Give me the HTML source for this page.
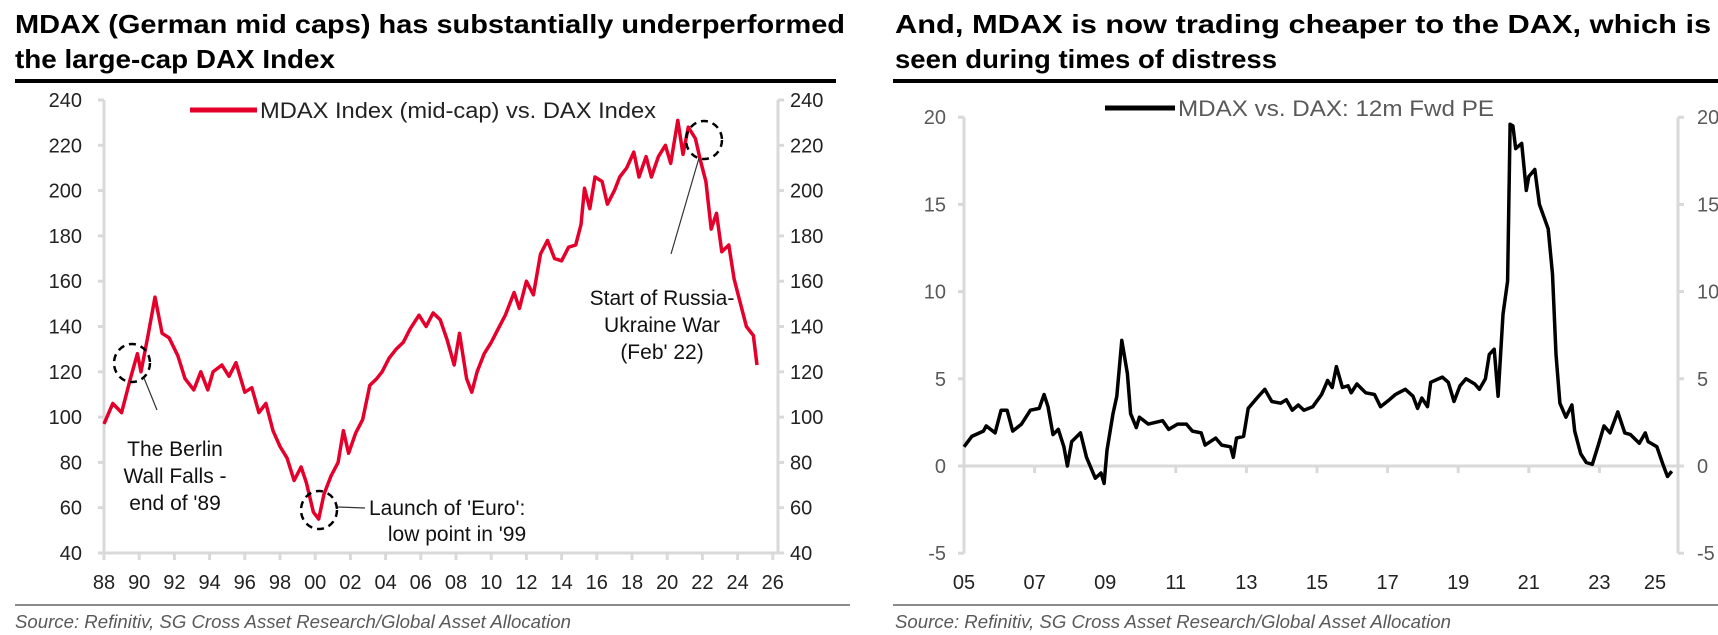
<!DOCTYPE html>
<html><head><meta charset="utf-8"><style>
html,body{margin:0;padding:0;background:#fff;}
svg{display:block;}
.t{font-family:"Liberation Sans Narrow","Liberation Sans",sans-serif;}
</style></head><body>
<svg id="s" width="1718" height="635" xmlns="http://www.w3.org/2000/svg">
<g font-family="Liberation Sans, sans-serif" font-weight="bold" font-size="26" fill="#000">
<text x="15" y="33" textLength="830" lengthAdjust="spacingAndGlyphs">MDAX (German mid caps) has substantially underperformed</text>
<text x="15" y="68" textLength="320" lengthAdjust="spacingAndGlyphs">the large-cap DAX Index</text>
</g>
<rect x="15" y="79" width="821" height="4" fill="#000"/>
<g font-family="Liberation Sans, sans-serif" font-weight="bold" font-size="26" fill="#000">
<text x="895" y="33" textLength="888" lengthAdjust="spacingAndGlyphs">And, MDAX is now trading cheaper to the DAX, which is only</text>
<text x="895" y="68" textLength="382" lengthAdjust="spacingAndGlyphs">seen during times of distress</text>
</g>
<rect x="893" y="79" width="825" height="4" fill="#000"/>
<rect x="15" y="604" width="835" height="2" fill="#8c8c8c"/>
<rect x="893" y="604" width="825" height="2" fill="#8c8c8c"/>
<text x="15" y="628" textLength="556" lengthAdjust="spacingAndGlyphs" font-family="Liberation Sans Narrow, Liberation Sans, sans-serif" font-style="italic" font-size="18" fill="#595959">Source: Refinitiv, SG Cross Asset Research/Global Asset Allocation</text>
<text x="895" y="628" textLength="556" lengthAdjust="spacingAndGlyphs" font-family="Liberation Sans Narrow, Liberation Sans, sans-serif" font-style="italic" font-size="18" fill="#595959">Source: Refinitiv, SG Cross Asset Research/Global Asset Allocation</text>
<g id="L"></g>
<g id="R"></g>
</svg>
<script>
// ---- Left chart data ----
const lYears=[88.0,88.5,89.0,89.5,89.9,90.1,90.5,90.9,91.3,91.7,92.2,92.6,93.1,93.5,93.9,94.2,94.7,95.1,95.5,96.0,96.4,96.8,97.2,97.6,98.0,98.4,98.8,99.2,99.5,99.9,100.2,100.5,100.9,101.3,101.6,101.9,102.3,102.7,103.1,103.5,103.8,104.2,104.6,105.0,105.4,105.9,106.3,106.7,107.1,107.5,107.9,108.2,108.6,108.9,109.2,109.6,110.0,110.4,110.8,111.3,111.6,112.0,112.4,112.8,113.2,113.6,114.0,114.4,114.8,115.1,115.3,115.6,115.9,116.3,116.6,117.0,117.3,117.7,118.1,118.4,118.8,119.1,119.5,119.9,120.2,120.6,120.9,121.2,121.6,121.9,122.2,122.5,122.8,123.1,123.5,123.8,124.2,124.5,124.9,125.1];
const lValues=[97,106,102,117,128,120,136,153,137,135,127,117,112,120,112,120,123,118,124,111,113,102,106,94,87,82,72,78,71,58,55,66,74,80,94,84,93,99,114,117,120,126,130,133,139,145,140,146,143,134,123,137,117,111,120,128,133,139,145,155,148,160,154,172,178,170,169,175,176,185,201,192,206,204,194,200,206,210,217,206,215,206,215,220,212,231,216,228,223,213,204,183,190,173,176,161,149,140,136,123];
const lYTicks=[40,60,80,100,120,140,160,180,200,220,240];
const lXTicks=["88","90","92","94","96","98","00","02","04","06","08","10","12","14","16","18","20","22","24","26"];
// ---- Right chart data ----
const rYears=[5.00,5.22,5.55,5.63,5.88,6.05,6.22,6.38,6.63,6.88,7.13,7.27,7.38,7.52,7.67,7.83,7.93,8.05,8.30,8.47,8.72,8.88,8.97,9.05,9.22,9.33,9.47,9.63,9.72,9.88,9.97,10.22,10.63,10.80,11.05,11.30,11.47,11.72,11.83,12.13,12.30,12.55,12.63,12.72,12.92,13.05,13.30,13.52,13.72,13.97,14.13,14.30,14.47,14.63,14.88,15.13,15.30,15.43,15.55,15.72,15.88,15.97,16.13,16.38,16.63,16.80,17.05,17.22,17.50,17.72,17.85,17.97,18.13,18.22,18.55,18.72,18.88,19.05,19.22,19.47,19.60,19.77,19.88,20.02,20.13,20.27,20.40,20.47,20.55,20.63,20.80,20.93,21.00,21.17,21.30,21.55,21.67,21.77,21.88,22.05,22.22,22.30,22.47,22.63,22.80,22.97,23.13,23.30,23.52,23.72,23.88,24.13,24.30,24.38,24.63,24.80,24.93,25.05];
const rValues=[1.1,1.7,2.0,2.3,1.9,3.2,3.2,2.0,2.4,3.2,3.3,4.1,3.4,1.8,2.1,1.1,0.0,1.4,1.9,0.5,-0.7,-0.4,-1.0,0.9,3.0,4.0,7.2,5.3,3.0,2.2,2.8,2.4,2.6,2.1,2.4,2.4,2.0,1.9,1.2,1.6,1.2,1.1,0.5,1.6,1.7,3.3,3.9,4.4,3.7,3.6,3.8,3.2,3.5,3.2,3.4,4.1,4.9,4.5,5.7,4.5,4.6,4.2,4.7,4.2,4.1,3.4,3.8,4.1,4.4,4.0,3.3,3.9,3.4,4.8,5.1,4.8,3.7,4.6,5.0,4.7,4.4,5.0,6.4,6.7,4.0,8.7,10.6,19.6,19.5,18.2,18.5,15.8,16.6,17.0,15.0,13.6,11.0,6.4,3.6,2.8,3.5,2.0,0.7,0.2,0.1,1.2,2.3,1.9,3.1,1.9,1.8,1.3,1.9,1.4,1.1,0.1,-0.6,-0.3];
const rYTicks=[-5,0,5,10,15,20];
const rXTicks=["05","07","09","11","13","15","17","19","21","23","25"];

const NS="http://www.w3.org/2000/svg";
function mk(parent,tag,attrs,text){const e=document.createElementNS(NS,tag);for(const k in attrs)e.setAttribute(k,attrs[k]);if(text!==undefined)e.textContent=text;parent.appendChild(e);return e;}

// Left axes
const lx=y=>104+(y-88)*17.6;
const ly=v=>100+(240-v)*45.3/20;
const L=document.getElementById('L');
let e;
e=mk(L,'line',{x1:104,y1:ly(240),x2:104,y2:ly(40),stroke:'#d9d9d9','stroke-width':3});

e=mk(L,'line',{x1:778,y1:ly(240),x2:778,y2:ly(40),stroke:'#d9d9d9','stroke-width':3});

e=mk(L,'line',{x1:104,y1:ly(40),x2:778,y2:ly(40),stroke:'#d9d9d9','stroke-width':3});

lYTicks.forEach(v=>{
  mk(L,'line',{x1:98,y1:ly(v),x2:104,y2:ly(v),stroke:'#d9d9d9','stroke-width':3});
  mk(L,'line',{x1:778,y1:ly(v),x2:784,y2:ly(v),stroke:'#d9d9d9','stroke-width':3});
  e=mk(L,'text',{x:82,y:ly(v)+7,'text-anchor':'end','font-size':20,fill:'#222',class:'t'},String(v));
  
  e=mk(L,'text',{x:790,y:ly(v)+7,'font-size':20,fill:'#222',class:'t'},String(v));
  
});
lXTicks.forEach((s,i)=>{
  const x=lx(88+i*2);
  mk(L,'line',{x1:x,y1:ly(40),x2:x,y2:ly(40)+7,stroke:'#d9d9d9','stroke-width':3});
  e=mk(L,'text',{x:x,y:589,'text-anchor':'middle','font-size':20,fill:'#222',class:'t'},s);
  
});
e=mk(L,'polyline',{points:lYears.map((y,i)=>lx(y).toFixed(1)+','+ly(lValues[i]).toFixed(1)).join(' '),fill:'none',stroke:'#e4002b','stroke-width':3.5,'stroke-linejoin':'round'});

e=mk(L,'line',{x1:190,y1:110,x2:257,y2:110,stroke:'#e4002b','stroke-width':5});

e=mk(L,'text',{x:260,y:118,'font-size':22,textLength:396,lengthAdjust:'spacingAndGlyphs',fill:'#222',class:'t'},'MDAX Index (mid-cap) vs. DAX Index');

// annotations
[[132,363],[319,510],[704,140]].forEach((c,i)=>{
  e=mk(L,'ellipse',{cx:c[0],cy:c[1],rx:18,ry:19,fill:'none',stroke:'#000','stroke-width':2.5,'stroke-dasharray':'7,5'});
  
});
mk(L,'line',{x1:144,y1:378,x2:157,y2:410,stroke:'#333','stroke-width':1.2});
mk(L,'line',{x1:338,y1:507,x2:365,y2:508,stroke:'#333','stroke-width':1.2});
mk(L,'line',{x1:671,y1:254,x2:699,y2:158,stroke:'#333','stroke-width':1.2});
function block(lines,x,y0,anchor,name){lines.forEach((s,i)=>{e=mk(L,'text',{x:x,y:y0+i*27,'text-anchor':anchor,'font-size':21,fill:'#111',class:'t'},s);});}
block(['The Berlin','Wall Falls -','end of \'89'],175,456,'middle','berlin-wall-annotation');
block(['Launch of \'Euro\':'],369,515,'start','euro-launch-annotation');
block(['low point in \'99'],457,541,'middle','euro-launch-annotation');
block(['Start of Russia-','Ukraine War','(Feb\' 22)'],662,305,'middle','russia-ukraine-annotation');

// Right axes
const rx=y=>964+(y-5)*35.3;
const ry=v=>466-v*87.2/5;
const R=document.getElementById('R');
e=mk(R,'line',{x1:964,y1:ry(20),x2:964,y2:ry(-5),stroke:'#d9d9d9','stroke-width':3});

e=mk(R,'line',{x1:1678,y1:ry(20),x2:1678,y2:ry(-5),stroke:'#d9d9d9','stroke-width':3});

e=mk(R,'line',{x1:964,y1:ry(0),x2:1678,y2:ry(0),stroke:'#d9d9d9','stroke-width':3});

rYTicks.forEach(v=>{
  mk(R,'line',{x1:958,y1:ry(v),x2:964,y2:ry(v),stroke:'#d9d9d9','stroke-width':3});
  mk(R,'line',{x1:1678,y1:ry(v),x2:1684,y2:ry(v),stroke:'#d9d9d9','stroke-width':3});
  e=mk(R,'text',{x:946,y:ry(v)+7,'text-anchor':'end','font-size':20,fill:'#595959',class:'t'},String(v));
  
  e=mk(R,'text',{x:1697,y:ry(v)+7,'font-size':20,fill:'#595959',class:'t'},String(v));
  
});
rXTicks.forEach((s,i)=>{
  const x=rx(5+i*2);
  if(i>0&&i<rXTicks.length-1) mk(R,'line',{x1:x,y1:ry(0),x2:x,y2:ry(0)+7,stroke:'#d9d9d9','stroke-width':3});
  e=mk(R,'text',{x:Math.min(x,1655),y:589,'text-anchor':'middle','font-size':20,fill:'#222',class:'t'},s);
  
});
e=mk(R,'polyline',{points:rYears.map((y,i)=>rx(y).toFixed(1)+','+ry(rValues[i]).toFixed(1)).join(' '),fill:'none',stroke:'#000','stroke-width':3.5,'stroke-linejoin':'round'});

e=mk(R,'line',{x1:1105,y1:108,x2:1175,y2:108,stroke:'#000','stroke-width':5});

e=mk(R,'text',{x:1178,y:116,'font-size':22,textLength:316,lengthAdjust:'spacingAndGlyphs',fill:'#595959',class:'t'},'MDAX vs. DAX: 12m Fwd PE');

</script>
</body></html>
